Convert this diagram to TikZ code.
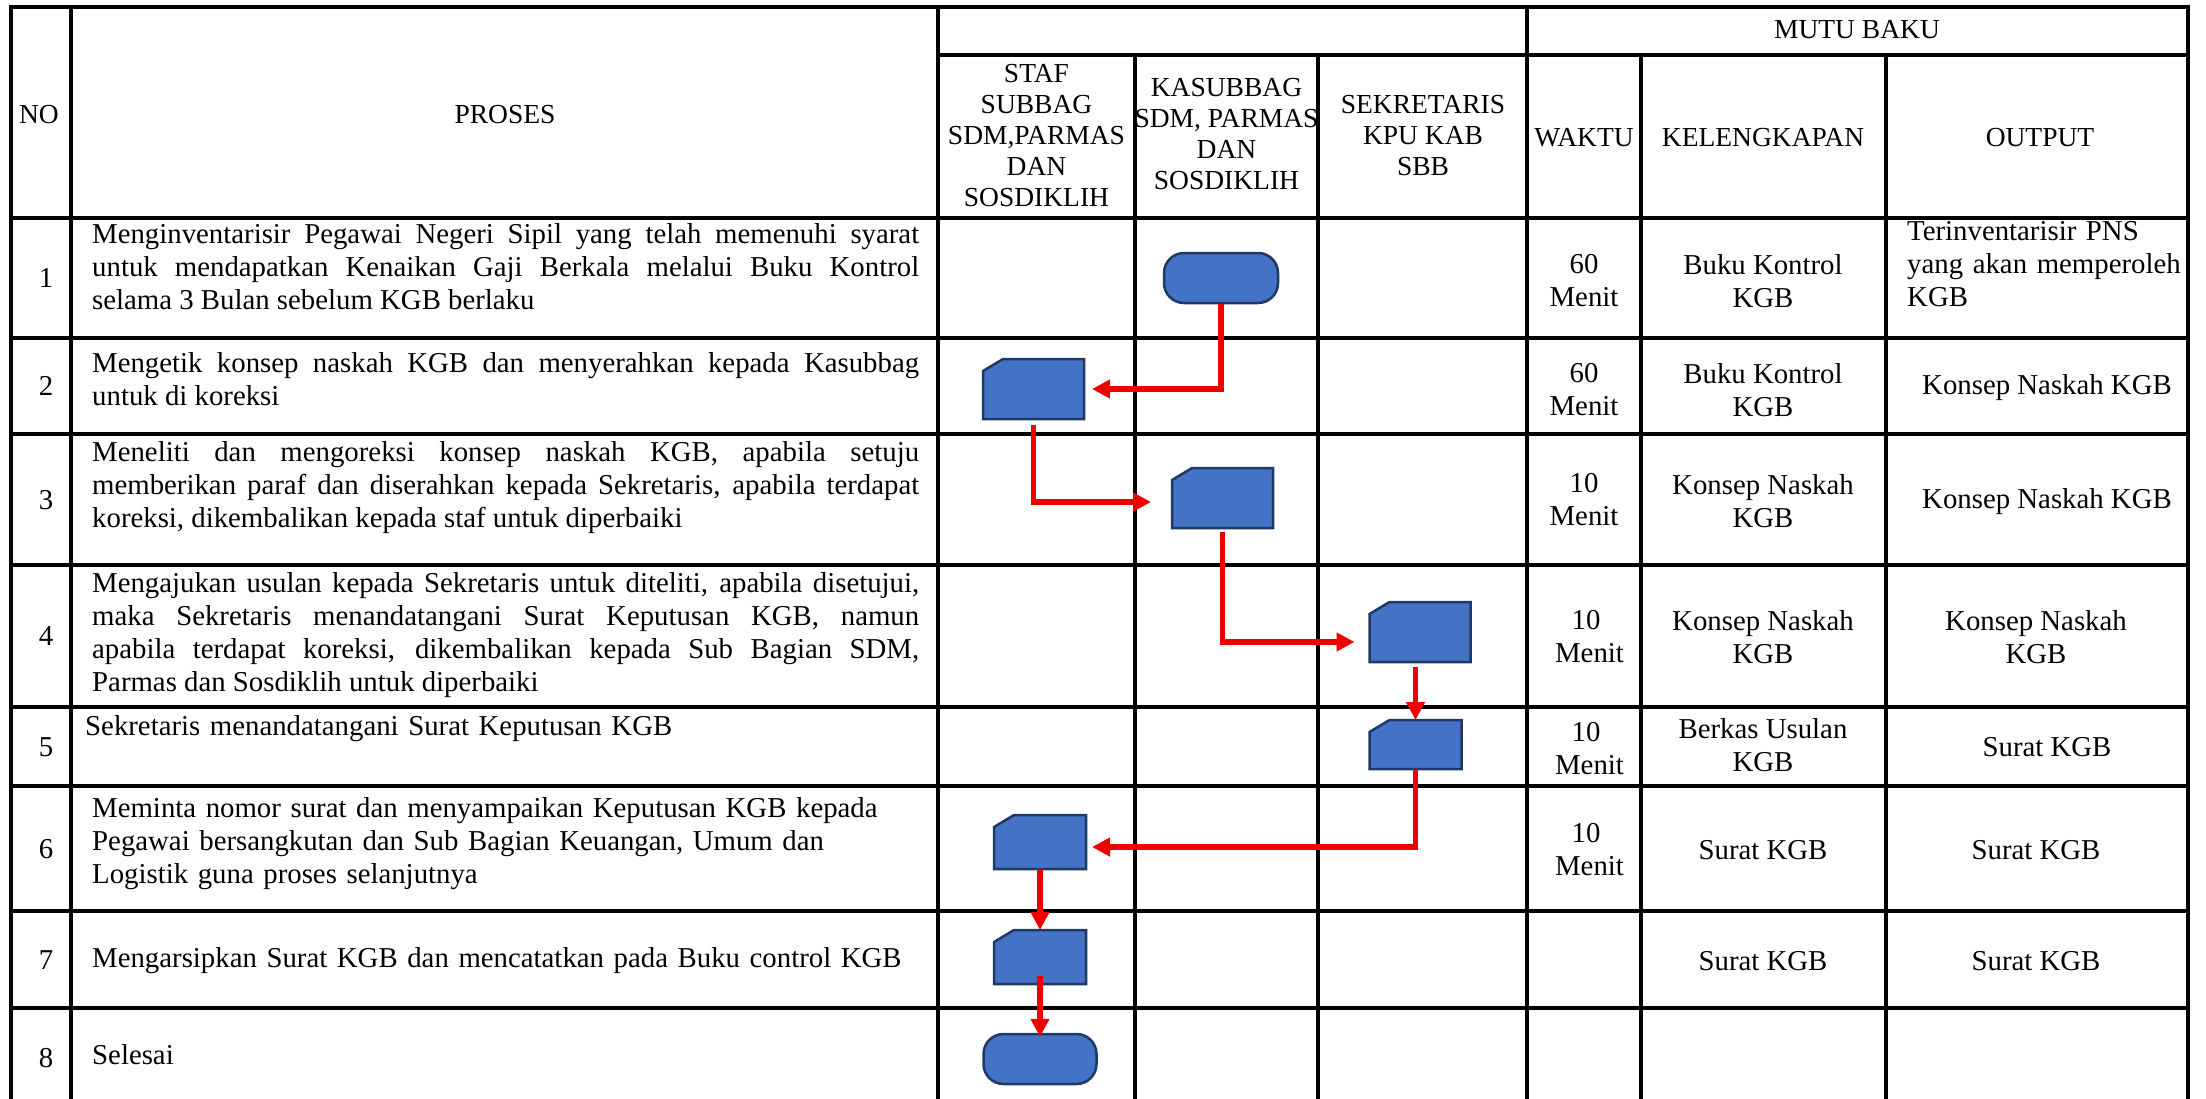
\documentclass[tikz,border=0pt]{standalone}
\usepackage{fontspec}
\setmainfont{Liberation Serif}
\usetikzlibrary{arrows.meta}
\definecolor{boxblue}{HTML}{4472C4}
\definecolor{boxedge}{HTML}{1F3864}
\definecolor{flowred}{RGB}{238,0,0}
\newcommand{\cardoutline}[1]{%
  \draw[cardshape] (#1.south west) -- ([yshift=-12pt]#1.north west)
    -- ([xshift=20pt]#1.north west) -- (#1.north east) -- (#1.south east) -- cycle;}
\begin{document}
\begin{tikzpicture}[x=1pt,y=-1pt,
  grid/.style={line width=3.3pt, line cap=rect},
  hdr/.style={font=\fontsize{27.5}{31}\selectfont, align=center, inner sep=0pt},
  txt/.style={font=\fontsize{28.8}{33}\selectfont, inner sep=0pt},
  proc/.style={txt, anchor=base west, text width=827pt, align=justify},
  procleft/.style={txt, anchor=base west, text width=827pt, align=left},
  cell/.style={txt, align=center},
  termbox/.style={draw=boxedge, line width=2.5pt, fill=boxblue, rounded corners=20pt, inner sep=0pt},
  cardbox/.style={inner sep=0pt, outer sep=0pt},
  cardshape/.style={draw=boxedge, line width=2.5pt, fill=boxblue, line join=miter},
  flow/.style={draw=flowred, line width=5.5pt, -{Triangle[length=18pt,width=18pt]}}
]
\useasboundingbox (0,0) rectangle (2206,1098);

% column and row rules of the table
\def\xL{11}\def\xA{71}\def\xB{938}\def\xC{1135}\def\xD{1318}
\def\xE{1527}\def\xF{1641}\def\xG{1886}\def\xR{2188}
\def\yT{7}\def\yH{55}\def\yB{218}\def\yBot{1098}
\draw[grid] (\xL,\yT) -- (\xR,\yT);
\draw[grid] (\xB,\yH) -- (\xR,\yH);
\foreach \yy in {\yB,338,434,565,707,786,911,1008}
  \draw[grid] (\xL,\yy) -- (\xR,\yy);
\foreach \xx in {\xL,\xA,\xB,\xE,\xR}
  \draw[grid] (\xx,\yT) -- (\xx,\yBot);
\foreach \xx in {\xC,\xD,\xF,\xG}
  \draw[grid] (\xx,\yH) -- (\xx,\yBot);

% header
\node[hdr] (hno) at (39,115) {NO};
\node[hdr] (hproses) at (505,115) {PROSES};
\node[hdr] (hmutu) at (1857,30) {MUTU BAKU};
\node[hdr] (hstaf) at (1036.5,136) {STAF\\SUBBAG\\SDM,PARMAS\\DAN\\SOSDIKLIH};
\node[hdr] (hkasub) at (1226.5,134) {KASUBBAG\\SDM, PARMAS\\DAN\\SOSDIKLIH};
\node[hdr] (hsekr) at (1423,136) {SEKRETARIS\\KPU KAB\\SBB};
\node[hdr] (hwaktu) at (1584,138) {WAKTU};
\node[hdr] (hkel) at (1763,138) {KELENGKAPAN};
\node[hdr] (hout) at (2040,138) {OUTPUT};

% row numbers
\node[txt] (n1) at (46,278) {1};
\node[txt] (n2) at (46,386) {2};
\node[txt] (n3) at (46,500) {3};
\node[txt] (n4) at (46,636) {4};
\node[txt] (n5) at (46,747) {5};
\node[txt] (n6) at (46,849) {6};
\node[txt] (n7) at (46,960) {7};
\node[txt] (n8) at (46,1058) {8};

% process descriptions
\node[proc] (p1) at (92,243) {Menginventarisir Pegawai Negeri Sipil yang telah memenuhi syarat\linebreak
  untuk mendapatkan Kenaikan Gaji Berkala melalui Buku Kontrol\linebreak
  selama 3 Bulan sebelum KGB berlaku};
\node[proc] (p2) at (92,372) {Mengetik konsep naskah KGB dan menyerahkan kepada Kasubbag\linebreak
  untuk di koreksi};
\node[proc] (p3) at (92,461) {Meneliti dan mengoreksi konsep naskah KGB, apabila setuju\linebreak
  memberikan paraf dan diserahkan kepada Sekretaris, apabila terdapat\linebreak
  koreksi, dikembalikan kepada staf untuk diperbaiki};
\node[proc] (p4) at (92,592) {Mengajukan usulan kepada Sekretaris untuk diteliti, apabila disetujui,\linebreak
  maka Sekretaris menandatangani Surat Keputusan KGB, namun\linebreak
  apabila terdapat koreksi, dikembalikan kepada Sub Bagian SDM,\linebreak
  Parmas dan Sosdiklih untuk diperbaiki};
\node[procleft] (p5) at (85,735) {Sekretaris menandatangani Surat Keputusan KGB};
\node[procleft] (p6) at (92,817) {Meminta nomor surat dan menyampaikan Keputusan KGB kepada\\
  Pegawai bersangkutan dan Sub Bagian Keuangan, Umum dan\\
  Logistik guna proses selanjutnya};
\node[procleft] (p7) at (92,967) {Mengarsipkan Surat KGB dan mencatatkan pada Buku control KGB};
\node[procleft] (p8) at (92,1064) {Selesai};

% time column
\node[cell] (w1) at (1584,281) {60\\Menit};
\node[cell] (w2) at (1584,390) {60\\Menit};
\node[cell] (w3) at (1584,500) {10\\Menit};
\node[cell] (w4) at (1586,637) {10\\\hspace*{7pt}Menit};
\node[cell] (w5) at (1586,749) {10\\\hspace*{7pt}Menit};
\node[cell] (w6) at (1586,850) {10\\\hspace*{7pt}Menit};

% completeness column
\node[cell] (k1) at (1763,281) {Buku Kontrol\\KGB};
\node[cell] (k2) at (1763,390) {Buku Kontrol\\KGB};
\node[cell] (k3) at (1763,501) {Konsep Naskah\\KGB};
\node[cell] (k4) at (1763,637) {Konsep Naskah\\KGB};
\node[cell] (k5) at (1763,745) {Berkas Usulan\\KGB};
\node[cell] (k6) at (1763,850) {Surat KGB};
\node[cell] (k7) at (1763,961) {Surat KGB};

% output column
\node[txt, anchor=base west, text width=285pt, align=left] (o1) at (1907,240)
  {Terinventarisir PNS\\yang akan memperoleh\\KGB};
\node[cell] (o2) at (2047,388) {Konsep Naskah KGB};
\node[cell] (o3) at (2047,502) {Konsep Naskah KGB};
\node[cell] (o4) at (2036,637) {Konsep Naskah\\KGB};
\node[cell] (o5) at (2047,747) {Surat KGB};
\node[cell] (o6) at (2036,850) {Surat KGB};
\node[cell] (o7) at (2036,961) {Surat KGB};

% flowchart symbols in the lanes
\node[termbox, minimum width=114pt, minimum height=50pt] (t1) at (1221,278) {};
\node[cardbox, minimum width=101pt, minimum height=60pt] (c2) at (1033.5,389) {};
\node[cardbox, minimum width=101pt, minimum height=60pt] (c3) at (1222.5,498) {};
\node[cardbox, minimum width=101pt, minimum height=60pt] (c4) at (1420,632) {};
\node[cardbox, minimum width=92pt, minimum height=49pt] (c5) at (1415.5,744.5) {};
\node[cardbox, minimum width=92pt, minimum height=54pt] (c6) at (1040,842) {};
\node[cardbox, minimum width=92pt, minimum height=54pt] (c7) at (1040,957) {};
\node[termbox, minimum width=113pt, minimum height=50pt] (t8) at (1040,1059) {};
\cardoutline{c2}
\cardoutline{c3}
\cardoutline{c4}
\cardoutline{c5}
\cardoutline{c6}
\cardoutline{c7}

% flow connectors
\draw[flow] (t1.south) |- ([xshift=8pt]c2.east);
\draw[flow] ([yshift=-6pt]c2.south) |- ([xshift=-21pt,yshift=-4pt]c3.west);
\draw[flow] ([yshift=-4pt]c3.south) |- ([xshift=-15pt,yshift=-10pt]c4.west);
\draw[flow, shorten <=5pt] (c5.north |- c4.south) -- (c5.north);
\draw[flow] (c5.south) |- ([xshift=6pt,yshift=-5pt]c6.east);
\draw[flow] (c6.south) -- (c7.north);
\draw[flow] ([yshift=8pt]c7.south) -- ([yshift=-4pt]t8.north);
\end{tikzpicture}
\end{document}
